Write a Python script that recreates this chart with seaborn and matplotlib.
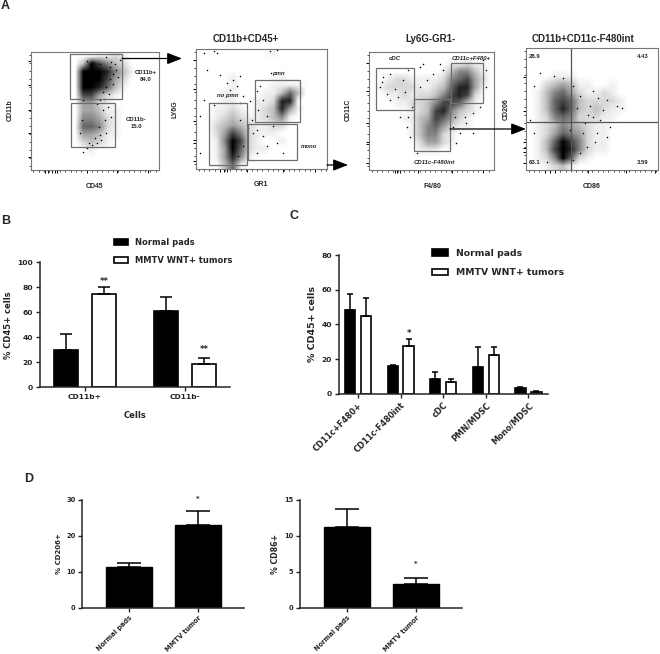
import numpy as np
import pandas as pd
import matplotlib
matplotlib.use("Agg")
import matplotlib.pyplot as plt
from matplotlib.patches import Rectangle
import seaborn as sns

W, H = 660, 654

# panel B
b_cells = ["CD11b+", "CD11b-"]
b_normal = [30, 61]
b_normal_err = [12.5, 11]
b_tumor = [74.5, 19]
b_tumor_err = [5.5, 4.5]

# panel C
c_cells = ["CD11c+F480+", "CD11c-F480int", "cDC", "PMN/MDSC", "Mono/MDSC"]
c_normal = [48.5, 16, 8.5, 15.5, 3]
c_normal_err = [9, 0.5, 4, 11.5, 1]
c_tumor = [45, 27.5, 7, 22.5, 0.8]
c_tumor_err = [10, 4, 1.5, 4.5, 0.5]

# panel D
d_groups = ["Normal pads", "MMTV tumor"]
d_cd206 = [11.2, 23]
d_cd206_err = [1.1, 4]
d_cd86 = [11.2, 3.3]
d_cd86_err = [2.5, 0.8]

group_names = ["Normal pads", "MMTV WNT+ tumors"]

# flow plots: event density, 0 to 9, top row first
a1_density = ["0000000011210000", "0000003975320000", "0000009998531000", "0000009997420000",
              "0000009986310000", "0000007742100000", "0000004421000000", "0000004431100000",
              "0000005542100000", "0000006652100000", "0000004431100000", "0000002321000000",
              "0000000100000000", "0000000000000000", "0000000000000000"]
a2_density = ["0000000001000000", "0000000000000000", "0000000000000000", "0000100000100000",
              "0000100001111000", "0001100011363000", "0001100112880000", "0011210123841000",
              "0012321123510000", "0023432112200000", "0024752111000000", "0015972100100000",
              "0014962110000000", "0014851000000000", "0003610000000000"]
a3_density = ["0000000000000000", "0000000000112110", "0000000001355310", "0012211112567420",
              "0122221123688410", "0011212235787200", "0001122357763100", "0000012378532100",
              "0000113476421000", "0000013564211000", "0000013552100000", "0000002442100000",
              "0000001110000000", "0000000000000000", "0000000000000000"]
a4_density = ["0000000000000000", "0000000000000000", "0000000000000000", "0001110000000000",
              "0023431100100000", "0135642112100000", "0136763222210000", "0136863232110000",
              "0125652221100000", "0123543211000000", "0124654211000000", "0136975211000000",
              "0137985211000000", "0125962100000000", "0012310000000000"]

# scattered single events
a1_x = [320, 335, 345, 350, 330, 355, 340, 320, 310, 300, 325, 335, 315, 320, 305, 290, 260, 250, 275, 340,
        330, 360, 300, 280, 262, 250, 290, 310, 300, 245, 240, 285, 312, 328, 268, 296]
a1_y = [110, 125, 130, 150, 140, 170, 190, 200, 215, 240, 260, 290, 300, 340, 360, 370, 385, 395, 375, 160,
        175, 120, 130, 125, 122, 240, 250, 270, 345, 300, 340, 355, 235, 222, 368, 320]
a2_x = [610, 650, 640, 810, 830, 620, 660, 700, 710, 690, 720, 610, 600, 730, 750, 720, 760, 790, 800, 830,
        850, 770, 820, 770, 680, 780, 790, 775, 800, 755, 600, 640, 720, 730, 715, 745, 812, 770]
a2_y = [100, 100, 95, 95, 92, 150, 165, 180, 200, 210, 170, 240, 290, 230, 245, 250, 340, 350, 380, 370,
        400, 400, 320, 330, 190, 200, 240, 270, 290, 300, 400, 255, 300, 380, 410, 325, 160, 215]
a3_x = [130, 150, 190, 175, 140, 205, 240, 260, 250, 300, 430, 440, 420, 400, 380, 360, 350, 205, 200, 180,
        150, 120, 215, 240, 280, 400, 440, 345, 340, 210, 230, 165, 125, 195, 375, 310]
a3_y = [170, 160, 180, 230, 220, 150, 140, 180, 130, 130, 120, 150, 260, 280, 310, 340, 370, 290, 320, 290,
        240, 200, 260, 200, 160, 340, 200, 290, 320, 350, 400, 205, 185, 215, 290, 150]
a4_x = [600, 640, 670, 700, 720, 760, 800, 790, 830, 845, 760, 730, 770, 800, 740, 720, 700, 580, 570, 580,
        750, 780, 810, 690, 670, 620, 710, 745, 775, 690, 735, 765]
a4_y = [160, 170, 175, 200, 230, 215, 240, 270, 260, 265, 290, 340, 340, 350, 380, 400, 420, 200, 300, 340,
        260, 300, 320, 380, 415, 425, 265, 285, 235, 330, 310, 365]

a1_gates = [(211, 100, 156, 135), (214, 247, 132, 134)]
a2_gates = [(625, 250, 115, 186), (764, 181, 136, 127), (744, 313, 148, 108)]
a3_gates = [(109, 144, 114, 124), (333, 127, 96, 120), (221, 235, 109, 158)]

sns.set_style("ticks")
plt.rcParams["font.family"] = ["DejaVu Sans"]
plt.rcParams["font.weight"] = "bold"
LABEL_FONT = "Liberation Sans"

fig = plt.figure(figsize=(W / 100, H / 100), dpi=100)


def box(left, top, right, bottom):
    return [left / W, 1 - bottom / H, (right - left) / W, (bottom - top) / H]


def flow_panel(density, events_x, events_y, frame, zoom_frame, gates, xticks, yticks):
    ax = fig.add_axes(box(*frame))
    x0, y0, x1, y1 = zoom_frame
    grid = np.array([[int(c) for c in row] for row in density], dtype=float)
    ax.imshow(grid ** 1.25, cmap="gray_r", vmin=0, vmax=9 ** 1.25, extent=(x0, x1, y1, y0),
              aspect="auto", interpolation="bilinear")
    sns.scatterplot(x=events_x, y=events_y, s=1.2, color="black", linewidth=0, ax=ax)
    for gx, gy, gw, gh in gates:
        ax.add_patch(Rectangle((gx, gy), gw, gh, fill=False, ec="#6e6e6e", lw=0.9))
    ax.set_xlim(x0, x1)
    ax.set_ylim(y1, y0)
    for s in ax.spines.values():
        s.set_visible(True)
        s.set_color("#777777")
        s.set_linewidth(0.8)
    ax.set_xticks(xticks)
    ax.set_yticks(yticks)
    ax.set_xticks(np.arange(x0 + 8, x1, 16), minor=True)
    ax.set_yticks(np.arange(y0 + 8, y1, 24), minor=True)
    ax.set_xticklabels([])
    ax.set_yticklabels([])
    ax.tick_params(which="major", length=2.2, width=0.7, color="black", pad=1)
    ax.tick_params(which="minor", length=1.2, width=0.5, color="black")
    return ax


flow_panel(a1_density, a1_x, a1_y, (30.7, 52, 159, 170), (92, 95, 478, 450), a1_gates,
           [135, 145, 155, 165, 170, 260, 352, 445], [122, 195, 268, 340, 412])
flow_panel(a2_density, a2_x, a2_y, (196, 49, 327, 169), (587, 88, 982, 448), a2_gates,
           [660, 670, 680, 740, 850, 945], [120, 207, 305, 362, 370, 423])
flow_panel(a3_density, a3_x, a3_y, (369, 52, 494, 170), (87, 95, 463, 450), a3_gates,
           [165, 172, 180, 235, 338, 430], [127, 212, 310, 365, 372, 428])
a4 = flow_panel(a4_density, a4_x, a4_y, (526, 48, 658, 170), (557, 85, 955, 450), [],
                [615, 630, 645, 745, 858, 945], [172, 272, 365, 385, 395, 430])
a4.axvline(693, color="#555555", lw=0.9)
a4.axhline(307, color="#555555", lw=0.9)


def grouped_bars(frame, cells, normal, tumor, normal_err, tumor_err, width, gap, cap, xlim, ymax, yticks):
    ax = fig.add_axes(box(*frame))
    df = pd.DataFrame({
        "cell": cells * 2,
        "group": [group_names[0]] * len(cells) + [group_names[1]] * len(cells),
        "value": normal + tumor,
    })
    sns.barplot(data=df, x="cell", y="value", hue="group", palette=["black", "white"],
                edgecolor="black", linewidth=1.2, width=width, gap=gap, errorbar=None,
                saturation=1, ax=ax)
    for cont, err in zip(ax.containers, [normal_err, tumor_err]):
        xs = [p.get_x() + p.get_width() / 2 for p in cont]
        ys = [p.get_height() for p in cont]
        ax.errorbar(xs, ys, yerr=[[0] * len(err), err], fmt="none", ecolor="black",
                    elinewidth=1.1, capsize=cap, capthick=1.1)
    ax.set_xlim(*xlim)
    ax.set_ylim(0, ymax)
    ax.set_yticks(yticks)
    return ax


def style_axis(ax, ylabel, size, label_size):
    sns.despine(ax=ax)
    for s in ["left", "bottom"]:
        ax.spines[s].set_linewidth(1.1)
    ax.tick_params(width=1.0, length=3, labelsize=size, pad=2)
    ax.set_ylabel(ylabel, fontsize=label_size, fontweight="bold", labelpad=3)


def place_legend(ax, left, top, size, spacing):
    ax.legend(loc="upper left", bbox_to_anchor=(left / W, 1 - top / H), bbox_transform=fig.transFigure,
              frameon=False, fontsize=size, handlelength=1.7, handleheight=0.7, handletextpad=0.85,
              labelspacing=spacing, borderpad=0, borderaxespad=0, title=None)


# B
ax_b = grouped_bars((40, 262.3, 230, 387.3), b_cells, b_normal, b_tumor, b_normal_err, b_tumor_err,
                    0.76, 0.355, 4.4, (-0.45, 1.45), 100, [0, 20, 40, 60, 80, 100])
style_axis(ax_b, "% CD45+ cells", 5.4, 6)
ax_b.set_xlabel("Cells", fontsize=6, fontweight="bold", labelpad=8)
ax_b.text(0.19, 81, "**", ha="center", va="bottom", fontsize=6)
ax_b.text(1.19, 27, "**", ha="center", va="bottom", fontsize=6)
place_legend(ax_b, 114, 238, 6, 1.05)

# C
ax_c = grouped_bars((339, 255, 548, 393.7), c_cells, c_normal, c_tumor, c_normal_err, c_tumor_err,
                    0.75, 0.36, 2.0, (-0.446, 4.46), 80, [0, 20, 40, 60, 80])
style_axis(ax_c, "% CD45+ cells", 5.4, 6.8)
ax_c.set_xlabel("")
plt.setp(ax_c.get_xticklabels(), rotation=45, ha="right", rotation_mode="anchor", fontsize=5.9)
ax_c.text(1.19, 32, "*", ha="center", va="bottom", fontsize=6)
place_legend(ax_c, 432, 249, 6.7, 1.1)


def single_bars(frame, values, errs, xlim, ymax, yticks, ylabel, label_size, star_y):
    ax = fig.add_axes(box(*frame))
    df = pd.DataFrame({"group": d_groups, "value": values})
    sns.barplot(data=df, x="group", y="value", color="black", saturation=1, edgecolor="black",
                width=0.667, errorbar=None, ax=ax)
    ax.errorbar([0, 1], values, yerr=[[0, 0], errs], fmt="none", ecolor="black",
                elinewidth=1.1, capsize=8.3, capthick=1.1)
    ax.set_xlim(*xlim)
    ax.set_ylim(0, ymax)
    ax.set_yticks(yticks)
    style_axis(ax, ylabel, 4.8, label_size)
    ax.set_xlabel("")
    plt.setp(ax.get_xticklabels(), rotation=45, ha="right", rotation_mode="anchor", fontsize=4.8)
    ax.text(1, star_y, "*", ha="center", va="center", fontsize=5, clip_on=False)
    return ax


single_bars((82.3, 499.7, 244, 607.7), d_cd206, d_cd206_err, (-0.677, 1.667), 30, [0, 10, 20, 30], "% CD206+", 5, 30.2)
single_bars((300, 499.7, 462, 607.7), d_cd86, d_cd86_err, (-0.68, 1.667), 15, [0, 5, 10, 15], "% CD86+", 5.6, 6.1)

# overlay in picture pixels for labels and arrows
ov = fig.add_axes([0, 0, 1, 1], facecolor="none")
ov.set_xlim(0, W)
ov.set_ylim(H, 0)
ov.axis("off")

for letter, x, y in [("A", 5, 6), ("B", 6, 221), ("C", 294, 216), ("D", 29, 479)]:
    ov.text(x, y, letter, fontsize=9, ha="center", va="center", family=LABEL_FONT)

for title, x, y in [("CD11b+CD45+", 246, 39), ("Ly6G-GR1-", 431, 39), ("CD11b+CD11c-F480int", 583, 39)]:
    ov.text(x, y, title, fontsize=7, ha="center", va="center", family=LABEL_FONT)

small = [("CD45", 95, 186, 0), ("CD11b", 10, 110, 90), ("GR1", 261, 185, 0), ("LY6G", 175, 109, 90),
         ("F4/80", 432, 186, 0), ("CD11C", 348, 110, 90), ("CD86", 592, 186, 0), ("CD206", 506, 109, 90)]
for label, x, y, rot in small:
    ov.text(x, y, label, fontsize=5, ha="center", va="center", rotation=rot, family=LABEL_FONT)

for label, x, y in [("CD11b+\n84.0", 146, 76), ("CD11b-\n15.0", 136, 123),
                    ("28.9", 535, 56), ("4.43", 643, 56), ("63.1", 535, 162), ("3.59", 643, 162)]:
    ov.text(x, y, label, fontsize=4.3, ha="center", va="center", linespacing=1.5, family=LABEL_FONT)

for label, x, y in [("pmn", 278, 74), ("no pmn", 228, 96), ("mono", 309, 147),
                    ("cDC", 395, 59), ("CD11c+F480+", 471, 59), ("CD11c-F480int", 434, 162)]:
    ov.text(x, y, label, fontsize=4.3, ha="center", va="center", style="italic", family=LABEL_FONT)

for x0, y0, x1, y1 in [(122, 58.5, 182, 58.5), (327, 165, 348, 165), (450, 129, 526, 129)]:
    ov.annotate("", xy=(x1, y1), xytext=(x0, y0),
                arrowprops=dict(arrowstyle="-|>,head_length=0.9,head_width=0.35", color="black",
                                lw=0.9, shrinkA=0, shrinkB=0))

fig.savefig("out.png", dpi=100)
